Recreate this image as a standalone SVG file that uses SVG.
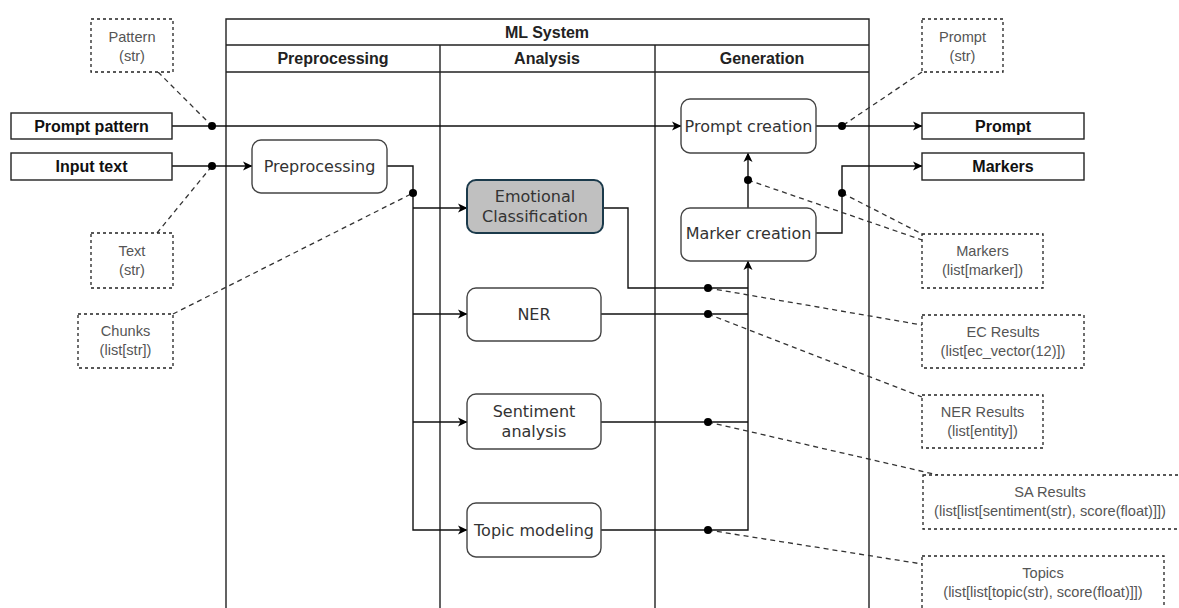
<svg xmlns="http://www.w3.org/2000/svg" width="1179" height="608" viewBox="0 0 1179 608">
<style>
.bg{fill:#fff}
.lane{fill:none;stroke:#222;stroke-width:1.4}
.hdr{font-family:"Liberation Sans",Arial,sans-serif;font-weight:bold;font-size:16px;fill:#222;text-anchor:middle}
.io{fill:#fff;stroke:#222;stroke-width:1.4}
.iot{font-family:"Liberation Sans",Arial,sans-serif;font-weight:bold;font-size:16px;fill:#111;text-anchor:middle}
.node{fill:#fff;stroke:#444;stroke-width:1.4}
.ec{fill:#c0c0c0;stroke:#1b3a4b;stroke-width:2}
.nt{font-family:"DejaVu Sans",Verdana,sans-serif;font-size:16px;fill:#333;text-anchor:middle}
.ann{fill:#fff;stroke:#222;stroke-width:1.3;stroke-dasharray:3 3}
.at{font-family:"Liberation Sans",Arial,sans-serif;font-size:14.6px;fill:#555;text-anchor:middle}
.c{fill:none;stroke:#111;stroke-width:1.4}
.ca{fill:none;stroke:#111;stroke-width:1.4;marker-end:url(#arr)}
.d{fill:none;stroke:#333;stroke-width:1.3;stroke-dasharray:5 4}
.dot{fill:#000}
</style>
<defs>
<marker id="arr" markerWidth="10" markerHeight="10" refX="9" refY="5" orient="auto" markerUnits="userSpaceOnUse">
<path d="M0,0.5 L9.5,5 L0,9.5 L2.5,5 z" fill="#000"/>
</marker>
</defs>
<rect class="bg" x="0" y="0" width="1179" height="608"/>

<g id="ml-system">
<path class="lane" d="M226,608 V19 H869 V608 M226,45 H869 M226,72 H869 M440,45 V608 M655,45 V608"/>
<text class="hdr" x="547" y="37.5">ML System</text>
<text class="hdr" x="333" y="64">Preprocessing</text>
<text class="hdr" x="547" y="64">Analysis</text>
<text class="hdr" x="762" y="64">Generation</text>
</g>

<g id="connectors">
<path class="ca" d="M172,126 H681"/>
<path class="ca" d="M172,166 H252"/>
<path class="ca" d="M387,166 H413 V530 H467"/>
<path class="ca" d="M413,208 H467"/>
<path class="ca" d="M413,314 H467"/>
<path class="ca" d="M413,422 H467"/>
<path class="c" d="M603,208 H628 V288 H748"/>
<path class="c" d="M601,314 H748"/>
<path class="c" d="M601,422 H748"/>
<path class="ca" d="M601,530 H748 V261"/>
<path class="ca" d="M748,208 V153"/>
<path class="ca" d="M816,233 H842 V166 H922"/>
<path class="ca" d="M816,126 H922"/>
<path class="d" d="M158,72 L212,126"/>
<path class="d" d="M157,233 L212,166"/>
<path class="d" d="M173,314 L413,193"/>
<path class="d" d="M922,72 L842,126"/>
<path class="d" d="M748,180 L922,240"/>
<path class="d" d="M842,193 L922,234"/>
<path class="d" d="M708,288 L922,325"/>
<path class="d" d="M708,314 L922,397"/>
<path class="d" d="M708,422 L938,475"/>
<path class="d" d="M708,530 L922,564"/>
<circle class="dot" cx="212" cy="126" r="4"/>
<circle class="dot" cx="212" cy="166" r="4"/>
<circle class="dot" cx="413" cy="193" r="4"/>
<circle class="dot" cx="708" cy="288" r="4"/>
<circle class="dot" cx="708" cy="314" r="4"/>
<circle class="dot" cx="708" cy="422" r="4"/>
<circle class="dot" cx="708" cy="530" r="4"/>
<circle class="dot" cx="748" cy="180" r="4"/>
<circle class="dot" cx="842" cy="193" r="4"/>
<circle class="dot" cx="842" cy="126" r="4"/>
</g>

<g id="prompt-pattern"><rect class="io" x="11" y="113" width="161" height="26"/><text class="iot" x="91.5" y="131.5">Prompt pattern</text></g>
<g id="input-text"><rect class="io" x="11" y="153" width="161" height="27"/><text class="iot" x="91.5" y="172">Input text</text></g>
<g id="prompt-out"><rect class="io" x="922" y="113" width="162" height="26"/><text class="iot" x="1003" y="131.5">Prompt</text></g>
<g id="markers-out"><rect class="io" x="922" y="153" width="162" height="27"/><text class="iot" x="1003" y="172">Markers</text></g>

<g id="preprocessing"><rect class="node" x="252" y="140" width="135" height="53" rx="9"/><text class="nt" x="319.5" y="172">Preprocessing</text></g>
<g id="emotional-classification"><rect class="ec" x="467" y="180" width="136" height="53" rx="9"/><text class="nt" x="535" y="202">Emotional</text><text class="nt" x="535" y="222">Classification</text></g>
<g id="ner"><rect class="node" x="467" y="288" width="134" height="53" rx="9"/><text class="nt" x="534" y="320">NER</text></g>
<g id="sentiment"><rect class="node" x="467" y="394" width="134" height="55" rx="9"/><text class="nt" x="534" y="417">Sentiment</text><text class="nt" x="534" y="437">analysis</text></g>
<g id="topic-modeling"><rect class="node" x="467" y="503" width="134" height="54" rx="9"/><text class="nt" x="534" y="536">Topic modeling</text></g>
<g id="prompt-creation"><rect class="node" x="681" y="99" width="135" height="54" rx="9"/><text class="nt" x="748.5" y="132">Prompt creation</text></g>
<g id="marker-creation"><rect class="node" x="681" y="208" width="135" height="53" rx="9"/><text class="nt" x="748.5" y="239">Marker creation</text></g>

<g id="ann-pattern"><rect class="ann" x="91" y="19" width="82" height="53"/><text class="at" x="132" y="42">Pattern</text><text class="at" x="132" y="61">(str)</text></g>
<g id="ann-text"><rect class="ann" x="91" y="233" width="82" height="55"/><text class="at" x="132" y="256">Text</text><text class="at" x="132" y="275">(str)</text></g>
<g id="ann-chunks"><rect class="ann" x="78" y="314" width="95" height="54"/><text class="at" x="125.5" y="336">Chunks</text><text class="at" x="125.5" y="355">(list[str])</text></g>
<g id="ann-prompt"><rect class="ann" x="922" y="19" width="81" height="53"/><text class="at" x="962.5" y="42">Prompt</text><text class="at" x="962.5" y="61">(str)</text></g>
<g id="ann-markers"><rect class="ann" x="922" y="234" width="121" height="54"/><text class="at" x="982.5" y="256">Markers</text><text class="at" x="982.5" y="275">(list[marker])</text></g>
<g id="ann-ec"><rect class="ann" x="922" y="315" width="162" height="53"/><text class="at" x="1003" y="337">EC Results</text><text class="at" x="1003" y="356">(list[ec_vector(12)])</text></g>
<g id="ann-ner"><rect class="ann" x="922" y="395" width="121" height="53"/><text class="at" x="982.5" y="417">NER Results</text><text class="at" x="982.5" y="436">(list[entity])</text></g>
<g id="ann-sa"><rect class="ann" x="923" y="475" width="262" height="54"/><text class="at" x="1050" y="497">SA Results</text><text class="at" x="1050" y="516">(list[list[sentiment(str), score(float)]])</text></g>
<g id="ann-topics"><rect class="ann" x="922" y="556" width="242" height="60"/><text class="at" x="1043" y="578">Topics</text><text class="at" x="1043" y="597">(list[list[topic(str), score(float)]])</text></g>
</svg>
